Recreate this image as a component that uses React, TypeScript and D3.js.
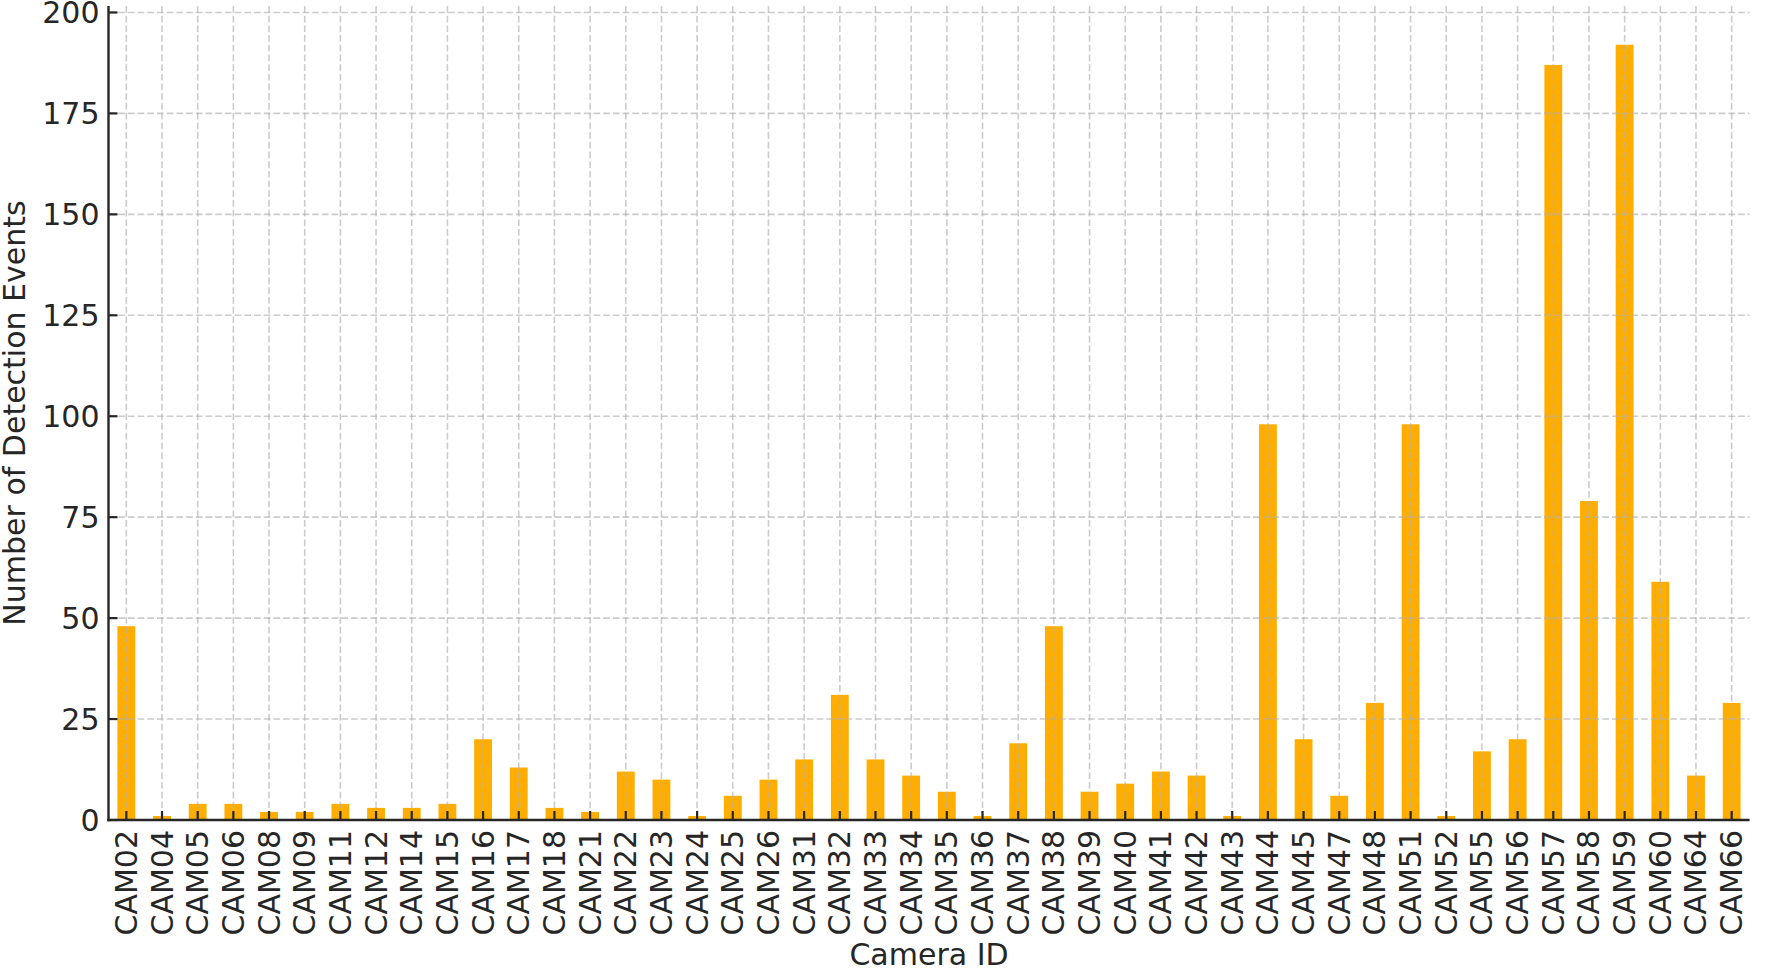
import React from "react";
import * as d3 from "d3";

const cameras = [
  "CAM02", "CAM04", "CAM05", "CAM06", "CAM08", "CAM09", "CAM11", "CAM12", "CAM14", "CAM15",
  "CAM16", "CAM17", "CAM18", "CAM21", "CAM22", "CAM23", "CAM24", "CAM25", "CAM26", "CAM31",
  "CAM32", "CAM33", "CAM34", "CAM35", "CAM36", "CAM37", "CAM38", "CAM39", "CAM40", "CAM41",
  "CAM42", "CAM43", "CAM44", "CAM45", "CAM47", "CAM48", "CAM51", "CAM52", "CAM55", "CAM56",
  "CAM57", "CAM58", "CAM59", "CAM60", "CAM64", "CAM66",
];

const events = [
  48, 1, 4, 4, 2, 2, 4, 3, 3, 4,
  20, 13, 3, 2, 12, 10, 1, 6, 10, 15,
  31, 15, 11, 7, 1, 19, 48, 7, 9, 12,
  11, 1, 98, 20, 6, 29, 98, 1, 17, 20,
  187, 79, 192, 59, 11, 29,
];

const yTicks = [0, 25, 50, 75, 100, 125, 150, 175, 200];

const W = 1767;
const H = 971;
const M = { left: 108.5, right: 1749.5, top: 6, bottom: 820 };
const FONT = "'DejaVu Sans', sans-serif";
const TEXT = "#262626";
const BAR = "#FFAE00";

export default function App() {
  const yMax = d3.max(events)! * 1.05;
  const x = d3
    .scaleBand<string>()
    .domain(cameras)
    .range([M.left, M.right])
    .paddingInner(0.5)
    .paddingOuter(0.25);
  const y = d3.scaleLinear().domain([0, yMax]).range([M.bottom, M.top]);
  const cx = (c: string) => x(c)! + x.bandwidth() / 2;

  return (
    <div style={{ position: "absolute", left: 0, top: 0 }}>
      <svg width={W} height={H} style={{ display: "block", background: "#fff" }}>
        {/* bars */}
        <g>
          {cameras.map((c, i) => (
            <rect
              key={c}
              x={x(c)}
              y={y(events[i])}
              width={x.bandwidth()}
              height={y(0) - y(events[i])}
              fill={BAR}
            />
          ))}
        </g>
        {/* grid */}
        <g stroke="#b0b0b0" strokeOpacity={0.65} strokeWidth={1.6} strokeDasharray="6.7 3">
          {cameras.map((c) => (
            <line key={c} x1={cx(c)} x2={cx(c)} y1={M.top} y2={M.bottom} />
          ))}
          {yTicks.map((t) => (
            <line key={t} x1={M.left} x2={M.right} y1={y(t)} y2={y(t)} />
          ))}
        </g>
        {/* ticks */}
        <g stroke={TEXT} strokeWidth={2.2}>
          {cameras.map((c) => (
            <line key={c} x1={cx(c)} x2={cx(c)} y1={M.bottom} y2={M.bottom - 9} />
          ))}
          {yTicks.map((t) => (
            <line key={t} x1={M.left} x2={M.left + 9} y1={y(t)} y2={y(t)} />
          ))}
        </g>
        {/* spines */}
        <g stroke={TEXT} strokeWidth={2.4} fill="none">
          <line x1={M.left} x2={M.left} y1={M.top} y2={M.bottom + 1.2} />
          <line x1={M.left - 1.2} x2={M.right} y1={M.bottom} y2={M.bottom} />
        </g>
        {/* tick labels */}
        <g fontFamily={FONT} fontSize={30} fill={TEXT}>
          {yTicks.map((t) => (
            <text key={t} x={99.5} y={y(t)} dy="0.36em" textAnchor="end">
              {t}
            </text>
          ))}
          {cameras.map((c) => (
            <text
              key={c}
              transform={`translate(${cx(c)},830) rotate(-90)`}
              dy="0.35em"
              textAnchor="end"
            >
              {c}
            </text>
          ))}
        </g>
        {/* axis labels */}
        <text
          x={(M.left + M.right) / 2}
          y={965}
          textAnchor="middle"
          fontFamily={FONT}
          fontSize={30}
          fill={TEXT}
        >
          Camera ID
        </text>
        <text
          transform={`translate(25,${(M.top + M.bottom) / 2}) rotate(-90)`}
          textAnchor="middle"
          fontFamily={FONT}
          fontSize={30}
          fill={TEXT}
        >
          Number of Detection Events
        </text>
      </svg>
    </div>
  );
}
